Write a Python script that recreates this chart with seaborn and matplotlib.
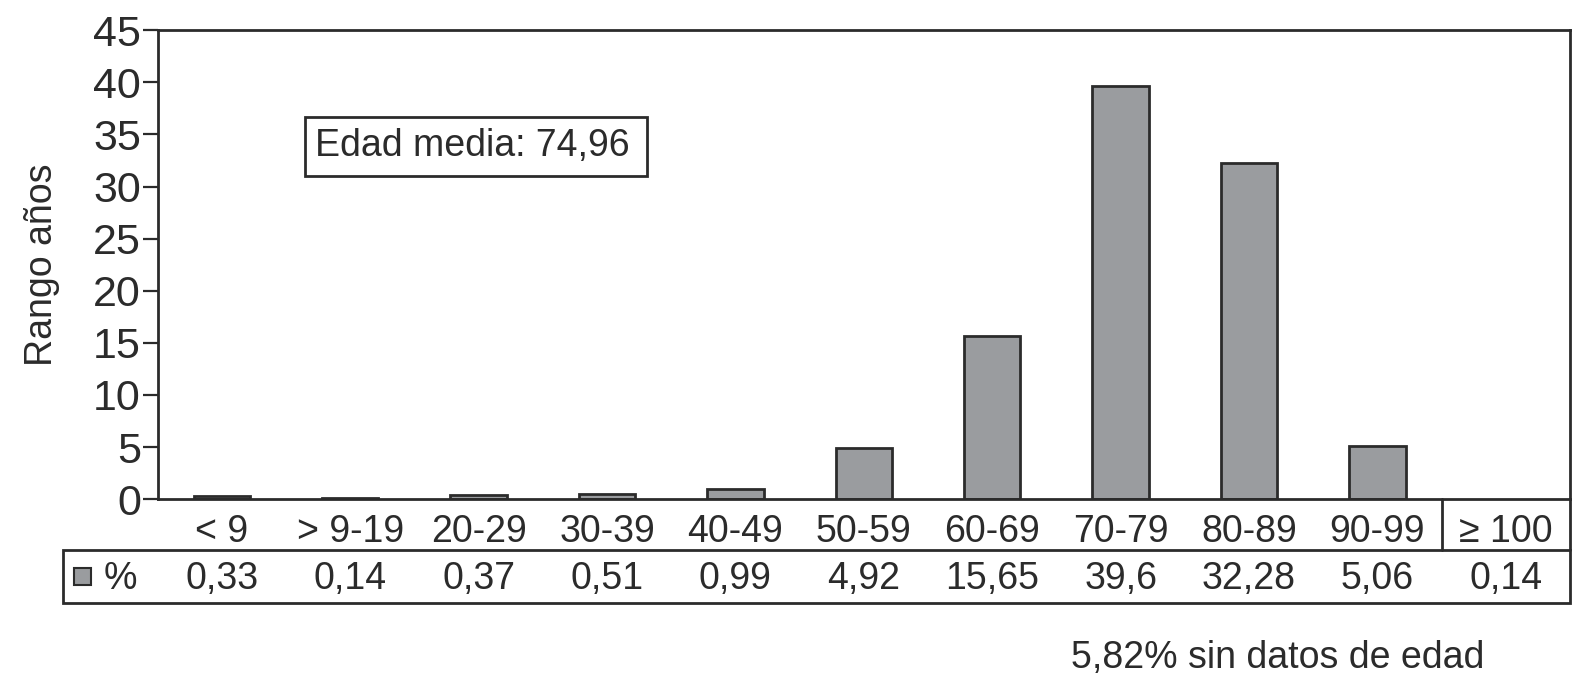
import matplotlib
matplotlib.use('Agg')
import matplotlib.pyplot as plt
import matplotlib.transforms as mtransforms
from matplotlib.patches import Rectangle
import seaborn as sns
import pandas as pd

# datos del gráfico
rangos = ['< 9', '> 9-19', '20-29', '30-39', '40-49', '50-59',
          '60-69', '70-79', '80-89', '90-99', '\u2265 100']
porcentajes = [0.33, 0.14, 0.37, 0.51, 0.99, 4.92, 15.65, 39.6, 32.28, 5.06, 0.14]
etiquetas_pct = ['0,33', '0,14', '0,37', '0,51', '0,99', '4,92',
                 '15,65', '39,6', '32,28', '5,06', '0,14']
# el original no dibuja barra para >= 100
barras_dibujadas = rangos[:10]

sns.set_style('white')
plt.rcParams['font.family'] = ['Liberation Sans', 'DejaVu Sans']
plt.rcParams['axes.unicode_minus'] = False

df = pd.DataFrame({'Rango': rangos, 'Pct': porcentajes})
df_barras = df[df['Rango'].isin(barras_dibujadas)]

gris = '#9a9c9f'
tinta = '#2b2b2b'
fs = 27

fig = plt.figure(figsize=(15.75, 6.82), dpi=100)
ax = fig.add_axes([0.1001, 0.268, 0.8967, 0.6878])

sns.barplot(data=df_barras, x='Rango', y='Pct', order=rangos, color=gris,
            width=0.44, edgecolor=tinta, linewidth=2, saturation=1, ax=ax)

ax.set_xlim(-0.5, len(rangos) - 0.5)
ax.set_ylim(0, 45)
ax.set_yticks(range(0, 50, 5))
ax.set_xlabel('')
ax.set_ylabel('Rango años', fontsize=fs, color=tinta, labelpad=24)
ax.tick_params(axis='y', left=True, length=11, width=1.6, color=tinta,
               labelsize=31, labelcolor=tinta, pad=1)
ax.tick_params(axis='x', bottom=False, labelsize=fs, labelcolor=tinta, pad=7)
for s in ax.spines.values():
    s.set_visible(True)
    s.set_color(tinta)
    s.set_linewidth(2)

# recuadro de edad media
ax.add_patch(Rectangle((0.104, 0.688), 0.2425, 0.126, transform=ax.transAxes,
                       fill=False, edgecolor=tinta, linewidth=2))
ax.text(0.334, 0.752, 'Edad media: 74,96', transform=ax.transAxes,
        ha='right', va='center', fontsize=fs, color=tinta)

# tabla de porcentajes bajo el eje
tr = mtransforms.blended_transform_factory(ax.transData, ax.transAxes)
x_izq = -1.235
x_der = len(rangos) - 0.5
y_sup, y_inf = -0.109, -0.2206
ax.add_patch(Rectangle((x_izq, y_inf), x_der - x_izq, y_sup - y_inf, transform=tr,
                       fill=False, edgecolor=tinta, linewidth=2, clip_on=False))
ax.plot([9.5, 9.5], [0, y_sup], transform=tr, color=tinta, lw=2, clip_on=False)
ax.plot([x_der, x_der], [0, y_sup], transform=tr, color=tinta, lw=2, clip_on=False)
ax.add_patch(Rectangle((-1.15, -0.183), 0.13, 0.037, transform=tr,
                       facecolor=gris, edgecolor=tinta, linewidth=1.5, clip_on=False))
ax.text(-0.92, -0.17, '%', transform=tr, ha='left', va='center',
        fontsize=fs, color=tinta)
for i, etq in enumerate(etiquetas_pct):
    ax.text(i, -0.17, etq, transform=tr, ha='center', va='center',
            fontsize=fs, color=tinta)

fig.text(0.811, 0.035, '5,82% sin datos de edad', ha='center', va='center',
         fontsize=fs, color=tinta)

fig.savefig('out.png', dpi=100)
